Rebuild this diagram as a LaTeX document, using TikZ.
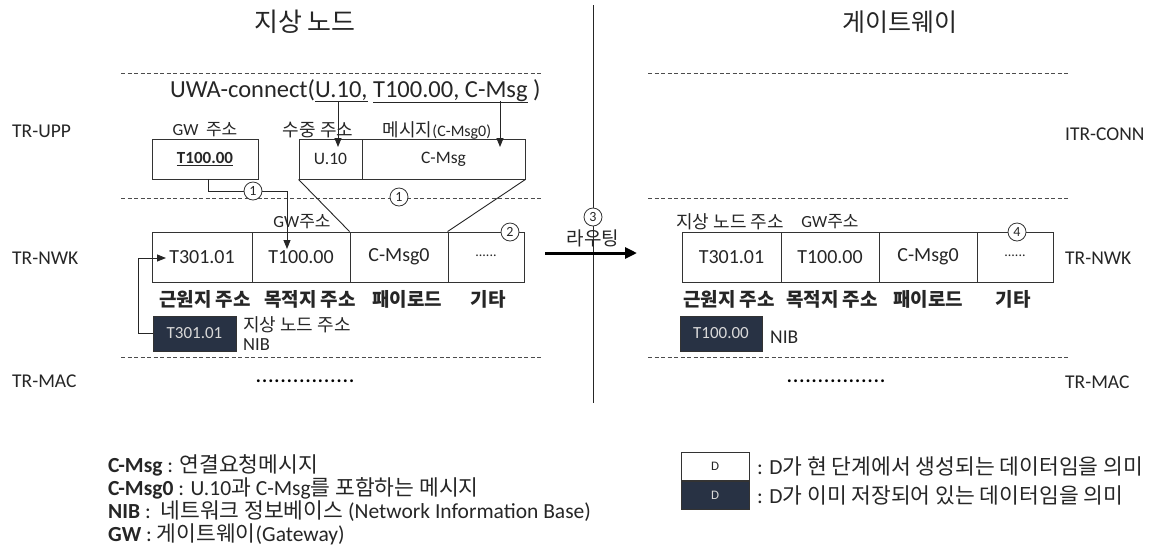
\documentclass[tikz,border=0pt]{standalone}
\usepackage{fontspec}
\setmainfont{Carlito}
\newfontfamily\kr{Noto Sans CJK KR}
\usetikzlibrary{arrows.meta}
\newcommand\fs[1]{\fontsize{#1}{#1}\selectfont}
\newcommand\lgk{\kr\fs{21.5}}
\begin{document}
\begin{tikzpicture}[x=1pt,y=-1pt,
  every node/.style={text=black!85, inner sep=0pt},
  dline/.style={draw=black!70, line width=0.9pt, dash pattern=on 4pt off 2.5pt},
  cell/.style={draw=black!80, line width=0.9pt, minimum height=50pt, font=\fs{20}},
  ubox/.style={draw=black!80, line width=0.9pt, minimum height=40pt, font=\fs{17.5}},
  nib/.style={draw=black!80, fill={rgb,255:red,40;green,50;blue,68}, text=black!15, minimum height=35pt, font=\fs{17}},
  num/.style={circle, draw=black!80, fill=white, line width=0.8pt, minimum size=18pt, font=\fs{14}},
  layer/.style={anchor=west, font=\fs{19.5}},
  lbl/.style={font=\kr\bfseries\fs{19}},
  conn/.style={draw=black!85, line width=0.9pt},
  arr/.style={conn, -{Triangle[length=9pt,width=7pt]}},
  leg/.style={anchor=west, font=\fs{21.5}},
  mdots/.style={font=\bfseries\fs{19}\addfontfeature{LetterSpace=6}, text=black},
]
\fill[white] (0,0) rectangle (1172,550);
\useasboundingbox (0,0) rectangle (1172,550);

% titles and divider
\node[font=\kr\fs{26}] (t1) at (305,22) {지상 노드};
\node[font=\kr\fs{25}] (t2) at (900,22) {게이트웨이};
\coordinate (vtop) at (593,5);
\coordinate (vbot) at (593,403);
\draw[conn] (vtop) -- (vbot);

% dashed layer separators
\foreach \y in {73,198,357} {
  \draw[dline] (121,\y) -- (542,\y);
  \draw[dline] (648,\y) -- (1070,\y);
}

% layer labels
\node[layer] (upp) at (12,131) {TR-UPP};
\node[layer] (nwk) at (12,258) {TR-NWK};
\node[layer] (mac) at (12,381) {TR-MAC};
\node[layer] (itr) at (1065,134) {ITR-CONN};
\node[layer] (nwk2) at (1065,258) {TR-NWK};
\node[layer] (mac2) at (1065,382) {TR-MAC};

% UPP
\node[anchor=base west, font=\fs{24.5}] (uwa) at (170,97) {UWA-connect(\underline{U.10,} \underline{T100.00, C-Msg} )};
\node[ubox, minimum width=106pt, font=\fs{17}] (gwbox) at (205,159) {\textbf{\underline{T100.00}}};
\node[ubox, minimum width=63pt] (u10) at (330.5,159) {U.10};
\node[ubox, minimum width=163pt] (cmsg) at (443.5,159) {C-Msg};
\node[font=\fs{17}] (gwl) at (205,130) {GW\ \ {\kr 주소}};
\node[font=\kr\fs{18}] (sjl) at (318,130) {수중 주소};
\node[font=\fs{16}] (msl) at (437,130) {{\kr\fs{18}메시지}(C-Msg0)};
\coordinate (ua) at (338,101);
\coordinate (ua2) at (338,147);
\coordinate (ub) at (500,101);
\coordinate (ub2) at (500,147);
\draw[arr] (ua) -- (ua2);
\draw[arr] (ub) -- (ub2);

% NWK left
\node[cell, minimum width=100pt] (s1) at (202,257) {T301.01};
\node[cell, minimum width=98pt] (s2) at (301,257) {T100.00};
\node[cell, minimum width=98pt] (s3) at (399,257) {C-Msg0};
\node[cell, minimum width=76pt] (s4) at (486,257) {\raisebox{3pt}{\fs{14}......}};
\draw[conn] (u10.south west) -- (s3.north west);
\draw[conn] (cmsg.south east) -- (s4.north west);
\coordinate (g1) at (287,191);
\coordinate (g2) at (287,249);
\draw[arr] ([xshift=3pt]gwbox.south) |- (g1) -- (g2);
\node[num] (c1a) at (253,191) {1};
\node[num] (c1b) at (399,197) {1};
\node[num] (c2) at (510,232) {2};
\node[font=\fs{17}] (gwl2) at (302,222) {GW{\kr 주소}};
\node[lbl] (l1) at (205,299) {근원지 주소};
\node[lbl] (l2) at (310,299) {목적지 주소};
\node[lbl] (l3) at (407,299) {패이로드};
\node[lbl] (l4) at (488,299) {기타};
\node[nib, minimum width=83pt] (nib1) at (194.5,333.5) {T301.01};
\node[anchor=west, font=\kr\fs{18}] (nl1) at (243,325) {지상 노드 주소};
\node[anchor=west, font=\fs{18.5}] (nl2) at (243,345) {NIB};
\coordinate (nb) at (138,333.5);
\coordinate (nt) at (166,258);
\draw[arr] (nib1.west) -- (nb) |- (nt);
\node[mdots] (dots1) at (305,381) {................};

% routing
\node[num] (c3) at (593,217) {3};
\node[font=\kr\fs{19}] (rl) at (593,238) {라우팅};
\coordinate (ra) at (545,253);
\coordinate (rb) at (637,253);
\draw[draw=black, line width=3pt, -{Triangle[length=12pt,width=11pt]}] (ra) -- (rb);

% NWK right
\node[cell, minimum width=99pt] (d1) at (731.5,257) {T301.01};
\node[cell, minimum width=98pt] (d2) at (830,257) {T100.00};
\node[cell, minimum width=98pt] (d3) at (928,257) {C-Msg0};
\node[cell, minimum width=76pt] (d4) at (1015,257) {\raisebox{3pt}{\fs{14}......}};
\node[num] (c4) at (1017,232) {4};
\node[font=\kr\fs{18}] (dl1) at (730,222) {지상 노드 주소};
\node[font=\fs{17}] (dl2) at (830,222) {GW{\kr 주소}};
\node[lbl] (m1) at (729,299) {근원지 주소};
\node[lbl] (m2) at (832,299) {목적지 주소};
\node[lbl] (m3) at (928,299) {패이로드};
\node[lbl] (m4) at (1013,299) {기타};
\node[nib, minimum width=82pt] (nib2) at (721,333.5) {T100.00};
\node[anchor=west, font=\fs{19.5}] (nl3) at (770,337) {NIB};
\node[mdots] (dots2) at (836,381) {................};

% legend left
\node[leg] (lg1) at (108,465) {\textbf{C-Msg} : {\lgk 연결요청메시지}};
\node[leg] (lg2) at (108,488) {\textbf{C-Msg0} : U.10{\lgk 과} C-Msg{\lgk 를 포함하는 메시지}};
\node[leg] (lg3) at (108,511) {\textbf{NIB} : \ {\lgk 네트워크 정보베이스} (Network Information Base)};
\node[leg] (lg4) at (108,534) {\textbf{GW} : {\lgk 게이트웨이}(Gateway)};

% legend right
\node[draw=black!80, line width=0.9pt, minimum width=68pt, minimum height=28pt, font=\fs{13}] (kw) at (715,466) {D};
\node[draw=black!80, fill={rgb,255:red,40;green,50;blue,68}, text=black!15, minimum width=68pt, minimum height=28pt, font=\fs{13}] (kd) at (715,495) {D};
\node[anchor=west, font=\fs{21.5}] (kt1) at (757,466) {: D{\kr\fs{21.5}가 현 단계에서 생성되는 데이터임을 의미}};
\node[anchor=west, font=\fs{21.5}] (kt2) at (757,495) {: D{\kr\fs{21.5}가 이미 저장되어 있는 데이터임을 의미}};
\end{tikzpicture}
\end{document}
